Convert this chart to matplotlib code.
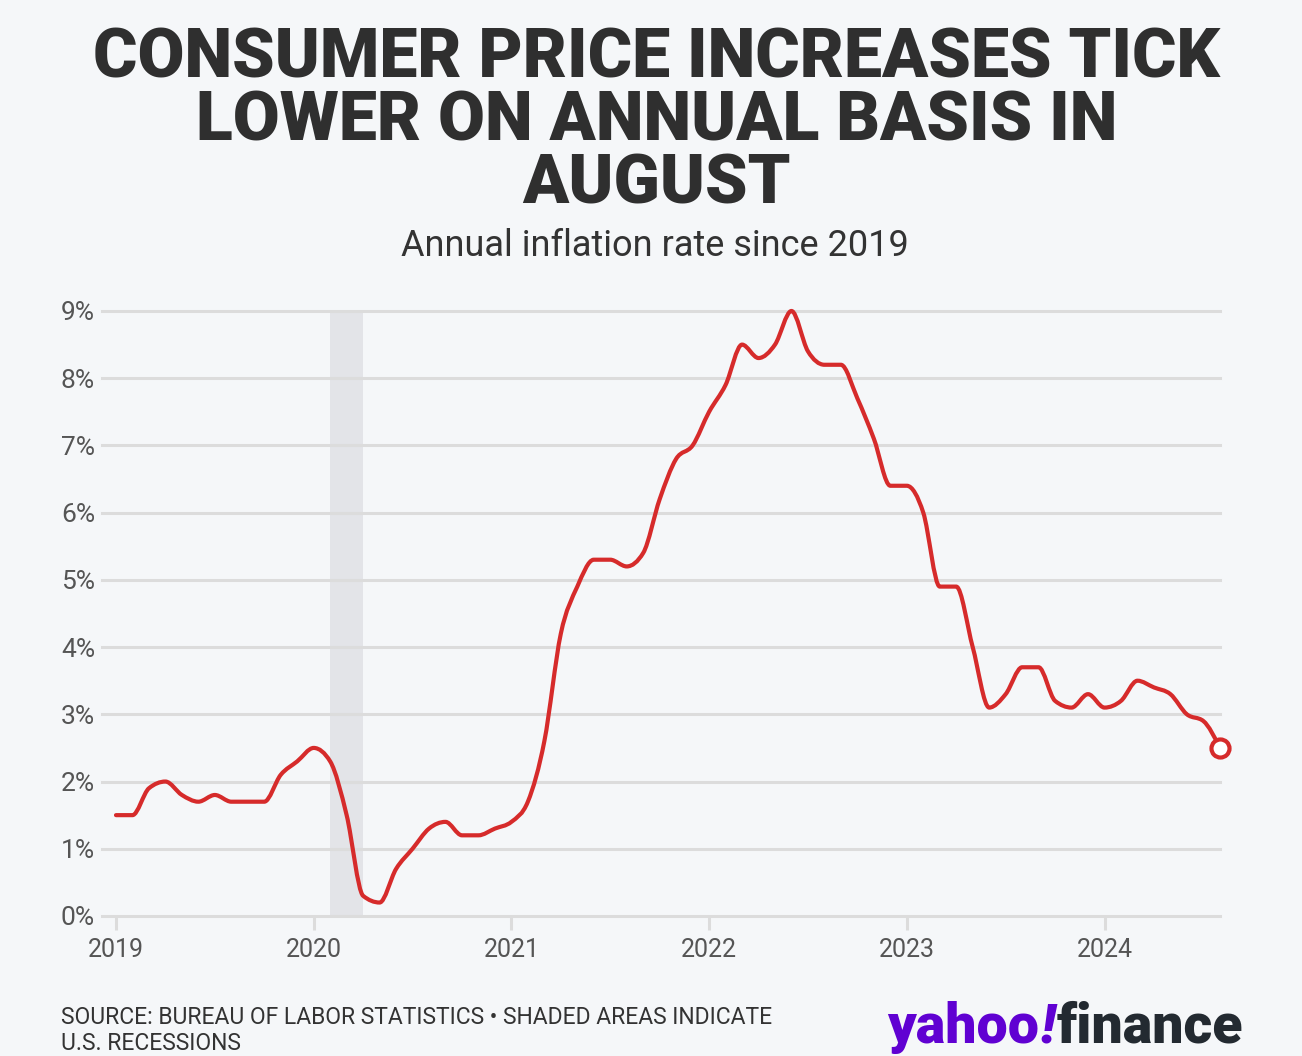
import numpy as np
import matplotlib
matplotlib.use("Agg")
import matplotlib.pyplot as plt
from matplotlib.path import Path
from matplotlib.patches import PathPatch

# monthly CPI, year over year (%), Jan 2019 .. Aug 2024
start_year = 2019
cpi = [
    1.5, 1.5, 1.9, 2.0, 1.8, 1.7, 1.8, 1.7, 1.7, 1.7, 2.1, 2.3,   # 2019
    2.5, 2.3, 1.5, 0.3, 0.2, 0.7, 1.0, 1.3, 1.4, 1.2, 1.2, 1.3,   # 2020
    1.4, 1.7, 2.6, 4.2, 4.9, 5.3, 5.3, 5.2, 5.4, 6.2, 6.8, 7.0,   # 2021
    7.5, 7.9, 8.5, 8.3, 8.5, 9.0, 8.4, 8.2, 8.2, 7.7, 7.1, 6.4,   # 2022
    6.4, 6.0, 4.9, 4.9, 4.0, 3.1, 3.3, 3.7, 3.7, 3.2, 3.1, 3.3,   # 2023
    3.1, 3.2, 3.5, 3.4, 3.3, 3.0, 2.9, 2.5,                       # 2024
]
recessions = [(2020 + 1 / 12, 2020 + 3 / 12)]
year_ticks = [2019, 2020, 2021, 2022, 2023, 2024]
pct_ticks = [0, 1, 2, 3, 4, 5, 6, 7, 8, 9]

BG = "#f5f7f9"
RED = "#d62b2b"
GRID = "#dcdcdc"
TXT = "#333333"


def monotone_path(x, y):
    # smooth monotone cubic (same idea as d3 curveMonotoneX)
    x = np.asarray(x, float)
    y = np.asarray(y, float)
    n = len(x)
    h = np.diff(x)
    s = np.diff(y) / h
    t = np.zeros(n)
    for i in range(1, n - 1):
        p = (s[i - 1] * h[i] + s[i] * h[i - 1]) / (h[i - 1] + h[i])
        t[i] = (np.sign(s[i - 1]) + np.sign(s[i])) * min(abs(s[i - 1]), abs(s[i]), 0.5 * abs(p))
    t[0] = (3 * s[0] - t[1]) / 2
    t[-1] = (3 * s[-1] - t[-2]) / 2
    verts = [(x[0], y[0])]
    codes = [Path.MOVETO]
    for i in range(n - 1):
        dx = h[i] / 3
        verts += [(x[i] + dx, y[i] + dx * t[i]),
                  (x[i + 1] - dx, y[i + 1] - dx * t[i + 1]),
                  (x[i + 1], y[i + 1])]
        codes += [Path.CURVE4] * 3
    return Path(verts, codes)


months = start_year + np.arange(len(cpi)) / 12

fig = plt.figure(figsize=(13.02, 10.56), dpi=100, facecolor=BG)
ax = fig.add_axes([0.0783, 0.1326, 0.8587, 0.5729])
ax.set_facecolor(BG)

for a, b in recessions:
    ax.axvspan(a, b, color="#e3e4e8", zorder=0.5, lw=0)

for v in pct_ticks:
    ax.axhline(v, color=GRID, lw=2.2, zorder=1, clip_on=False)

patch = PathPatch(monotone_path(months, cpi), fill=False, edgecolor=RED,
                  lw=3.0, capstyle="round", joinstyle="round", zorder=3, clip_on=False)
ax.add_patch(patch)
ax.plot(months[-1], cpi[-1], "o", ms=13, mfc="white", mec=RED, mew=3, zorder=4, clip_on=False)

ax.set_xlim(2018.929, 2024.584)
ax.set_ylim(0, 9)
for sp in ax.spines.values():
    sp.set_visible(False)

ax.set_yticks(pct_ticks)
ax.set_yticklabels([f"{v}%" for v in pct_ticks])
ax.set_xticks(year_ticks)
ax.set_xticklabels([str(y) for y in year_ticks])
ax.tick_params(axis="y", length=0, pad=5, labelsize=19, labelcolor="#555555")
ax.tick_params(axis="x", length=10, width=2.2, color=GRID, pad=6, labelsize=18, labelcolor="#555555")
for lab in ax.get_xticklabels() + ax.get_yticklabels():
    lab.set_fontfamily("Roboto")

fig.text(0.504, 0.975, "CONSUMER PRICE INCREASES TICK\nLOWER ON ANNUAL BASIS IN\nAUGUST",
         ha="center", va="top", fontsize=49, fontweight="black", family="Roboto",
         color="#2f2f2f", linespacing=0.96)
fig.text(0.503, 0.767, "Annual inflation rate since 2019", ha="center", va="center",
         fontsize=26, family="Roboto", color=TXT)

fig.text(0.047, 0.024, "SOURCE: BUREAU OF LABOR STATISTICS \u2022 SHADED AREAS INDICATE\nU.S. RECESSIONS",
         ha="left", va="center", fontsize=16.5, family="Roboto", color=TXT, linespacing=1.2)

# logo: yahoo + slanted ! + finance
fig.canvas.draw()
r = fig.canvas.get_renderer()
base = 0.0125
x0 = 887 / 1302
t1 = fig.text(x0, base, "yahoo", ha="left", va="baseline", fontsize=40,
              fontweight="black", family="Roboto", color="#6001d2")
bb = t1.get_window_extent(r)
t2 = fig.text(bb.x1 / 1302 + 0.001, base, "!", ha="left", va="baseline", fontsize=40,
              fontweight="black", fontstyle="italic", family="Roboto", color="#6001d2")
bb2 = t2.get_window_extent(r)
fig.text(bb2.x1 / 1302 + 0.001, base, "finance", ha="left", va="baseline", fontsize=40,
         fontweight="black", family="Roboto", color="#232a31")

fig.savefig("out.png", dpi=100, facecolor=BG)
